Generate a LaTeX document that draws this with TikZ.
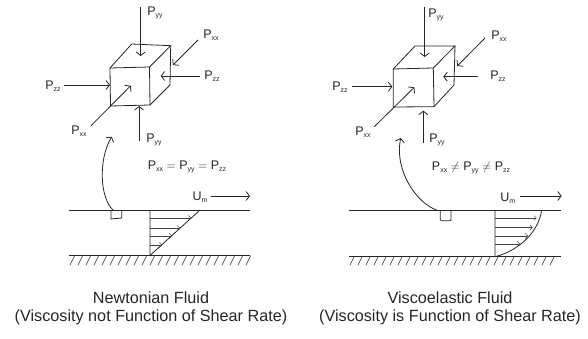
\documentclass[tikz,border=0pt]{standalone}
\usepackage{fontspec}
\setmainfont{Liberation Sans}
\usetikzlibrary{arrows.meta}
\newcommand{\psub}[2]{#1\raisebox{-2.5pt}{\fontsize{7}{7}\selectfont #2}}
\tikzset{
    line/.style={line width=0.8pt, black!85},
    force/.style={line, -{Straight Barb[length=3.5pt, width=9pt]}},
    flow/.style={line width=0.5pt, black!75, -{Straight Barb[length=2.5pt, width=5pt]}},
    lbl/.style={inner sep=0pt, font=\fontsize{12.5}{14}\selectfont, text=black!85},
    caption/.style={inner sep=0pt, align=center, font=\fontsize{16.2}{18}\selectfont, text=black!85}
}
\begin{document}
\begin{tikzpicture}[x=1pt, y=-1pt]
    \useasboundingbox (0, 0) rectangle (588, 339);
    % left cube
    \draw [line] (110, 68) -- (149.5, 67) -- (150, 105) -- (110.5, 106) -- cycle;
    \draw [line] (110, 68) -- (131.7, 44) -- (170.7, 45.7) -- (149.5, 67);
    \draw [line] (170.7, 45.7) -- (170, 85) -- (150, 105);
    % right cube
    \draw [line] (393.3, 69) -- (433.3, 68) -- (434, 106.7) -- (393.3, 107) -- cycle;
    \draw [line] (393.3, 69) -- (415, 46) -- (455, 46) -- (433.3, 68);
    \draw [line] (455, 46) -- (454, 85) -- (434, 106.7);
    % force ends
    \foreach \name/\sx/\sy/\ex/\ey in {
            a/140.7/7/140.7/56, b/198/40/173/65, c/200/76/160.7/76,
            d/64/85/110/85, e/91/125.7/130.7/85.7, f/139/140.7/139/106,
            g/424.7/7/424.7/57, h/485/38/457.3/66, i/478/76.7/443.3/76.7,
            j/351.7/86.7/392.3/86.7, k/374.3/126.7/414.3/87.3, l/423.3/143.3/423.3/110.7}{
            \coordinate (\name start) at (\sx, \sy);
            \coordinate (\name end) at (\ex, \ey);
            \draw [force] (\name start) -- (\name end);
        }
    % labels
    \node [lbl] (pyyTopA) at (155, 13) {\psub{P}{yy}};
    \node [lbl] (pxxRightA) at (211, 35) {\psub{P}{xx}};
    \node [lbl] (pzzRightA) at (212, 76) {\psub{P}{zz}};
    \node [lbl] (pzzLeftA) at (53, 86) {\psub{P}{zz}};
    \node [lbl] (pxxLeftA) at (79, 131) {\psub{P}{xx}};
    \node [lbl] (pyyLowA) at (154, 140) {\psub{P}{yy}};
    \node [lbl] (eqnA) at (187, 167) {\psub{P}{xx} $=$ \psub{P}{yy} $=$ \psub{P}{zz}};
    \node [lbl] (pyyTopB) at (436, 15) {\psub{P}{yy}};
    \node [lbl] (pxxRightB) at (499, 36) {\psub{P}{xx}};
    \node [lbl] (pzzRightB) at (498, 76) {\psub{P}{zz}};
    \node [lbl] (pzzLeftB) at (340, 87) {\psub{P}{zz}};
    \node [lbl] (pxxLeftB) at (363, 132) {\psub{P}{xx}};
    \node [lbl] (pyyLowB) at (437, 140) {\psub{P}{yy}};
    \node [lbl] (eqnB) at (471, 168) {\psub{P}{xx} $\neq$ \psub{P}{yy} $\neq$ \psub{P}{zz}};
    % curved arrows up from the probes
    \coordinate (probeA) at (113, 210);
    \coordinate (cubeA) at (111.7, 136.7);
    \coordinate (probeB) at (436.7, 210);
    \coordinate (cubeB) at (400.7, 138);
    \draw [force] (probeA) .. controls (100, 198) and (98, 160) .. (cubeA);
    \draw [force] (probeB) .. controls (418, 204) and (394, 172) .. (cubeB);
    % surfaces and walls
    \draw [line] (69, 210) -- (250, 210);
    \draw [line] (69, 255.5) -- (250, 255.5);
    \draw [line] (349, 210) -- (561, 210);
    \draw [line] (349, 256) -- (561, 256);
    \foreach \x in {70, 78, ..., 246}{
            \draw [line, line width=0.5pt] (\x, 265) -- ({\x+4.5}, 256);
        }
    \foreach \x in {350, 358, ..., 556}{
            \draw [line, line width=0.5pt] (\x, 265) -- ({\x+4.5}, 256);
        }
    % probes
    \draw [line] (111, 210) -- (111, 219) -- (121.7, 218) -- (121.7, 210);
    \draw [line, rounded corners=1pt] (440.3, 210) -- (440.3, 220.7) -- (451, 220.7) -- (451, 210);
    % left profile
    \draw [line] (150, 210) -- (150, 255.5) -- (200, 210);
    \foreach \y/\ex in {218/191, 228/180, 236/172, 245/162}{
            \draw [flow] (150, \y) -- (\ex, \y);
        }
    % right profile
    \draw [line] (495, 210) -- (495, 256.7) .. controls (515, 252) and (538, 235) .. (541.7, 210);
    \foreach \y/\ex in {218/536.7, 227.7/532.7, 236/528, 244/520}{
            \draw [flow] (495, \y) -- (\ex, \y);
        }
    % free stream
    \node [lbl] (umA) at (200, 197) {\psub{U}{m}};
    \node [lbl] (umB) at (507.7, 198) {\psub{U}{m}};
    \coordinate (umEndA) at (250, 196);
    \coordinate (umEndB) at (561.7, 196);
    \draw [force] (umA.east) ++(3, -1) -- (umEndA);
    \draw [force] (umB.east) ++(5, -2) -- (umEndB);
    % captions
    \node [caption] (captionA) at (151, 308.5) {Newtonian Fluid\\(Viscosity not Function of Shear Rate)};
    \node [caption] (captionB) at (450, 308.5) {Viscoelastic Fluid\\(Viscosity is Function of Shear Rate)};
\end{tikzpicture}
\end{document}
